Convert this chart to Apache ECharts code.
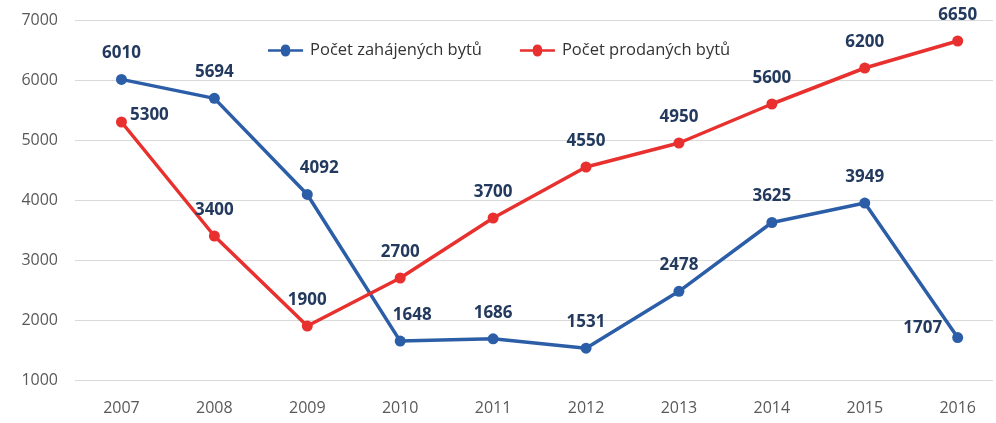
<!DOCTYPE html>
<html>
<head>
<meta charset="utf-8">
<script src="https://cdn.jsdelivr.net/npm/echarts@6/dist/echarts.min.js"></script>
<style>
html,body{margin:0;padding:0;background:#fff;}
#chart{width:996px;height:423px;}
</style>
</head>
<body>
<div id="chart"></div>
<script>
var years = [2007, 2008, 2009, 2010, 2011, 2012, 2013, 2014, 2015, 2016];
var zahajene = [6010, 5694, 4092, 1648, 1686, 1531, 2478, 3625, 3949, 1707];
var prodane = [5300, 3400, 1900, 2700, 3700, 4550, 4950, 5600, 6200, 6650];
var yTicks = [1000, 2000, 3000, 4000, 5000, 6000, 7000];
var seriesNames = ['Počet zahájených bytů', 'Počet prodaných bytů'];

var BLUE = '#2c5ea8';
var RED = '#e8312f';
var LABEL = '#233a5e';

function pairs(vals) {
  return vals.map(function (v, i) { return [years[i], v]; });
}

var blueData = pairs(zahajene).map(function (p, i) {
  var d = { value: p };
  if (years[i] === 2009 || years[i] === 2010) {
    d.label = { offset: [12, 0] };
  }
  if (years[i] === 2016) {
    d.label = { position: 'left', distance: 10, offset: [0, -9] };
  }
  return d;
});
var redData = pairs(prodane).map(function (p, i) {
  var d = { value: p };
  if (years[i] === 2007) {
    d.label = { position: 'right', distance: 3, offset: [0, -7] };
  }
  return d;
});

var labelStyle = {
  show: true,
  position: 'top',
  distance: 12,
  color: LABEL,
  fontSize: 17,
  fontWeight: 'bold',
  fontFamily: 'Open Sans',
  formatter: function (p) { return p.value[1]; }
};

var chart = echarts.init(document.getElementById('chart'), null, { renderer: 'canvas' });
chart.setOption({
  animation: false,
  backgroundColor: '#ffffff',
  grid: { left: 75, right: 3, top: 20, bottom: 43, containLabel: false },
  legend: {
    top: 37,
    left: 263,
    itemWidth: 45,
    itemHeight: 12,
    itemGap: 38,
    icon: 'path://M0,4.3 L16.5,4.3 A6,6 0 1,1 28.5,4.3 L45,4.3 L45,7.7 L28.5,7.7 A6,6 0 1,1 16.5,7.7 L0,7.7 Z',
    textStyle: { color: '#333333', fontSize: 16.5, fontFamily: 'Open Sans', padding: [0, 0, 0, -3] },
    data: seriesNames
  },
  xAxis: {
    type: 'value',
    min: 2006.5,
    max: 2016.38,
    splitLine: { show: false },
    axisLine: { show: false },
    axisTick: { show: false },
    axisLabel: {
      customValues: years,
      color: '#595959',
      fontSize: 16,
      fontFamily: 'Open Sans',
      margin: 20,
      formatter: function (v) { return String(v); }
    }
  },
  yAxis: {
    type: 'value',
    min: yTicks[0],
    max: yTicks[yTicks.length - 1],
    interval: 1000,
    axisLine: { show: false },
    axisTick: { show: false },
    splitLine: { lineStyle: { color: '#d9d9d9', width: 1.2 } },
    axisLabel: {
      color: '#595959',
      fontSize: 16,
      fontFamily: 'Open Sans',
      margin: 17,
      formatter: function (v) { return String(v); }
    }
  },
  series: [
    {
      name: seriesNames[0],
      type: 'line',
      data: blueData,
      symbol: 'circle',
      symbolSize: 11,
      color: BLUE,
      lineStyle: { color: BLUE, width: 3.5 },
      itemStyle: { color: BLUE },
      label: labelStyle,
      z: 2
    },
    {
      name: seriesNames[1],
      type: 'line',
      data: redData,
      symbol: 'circle',
      symbolSize: 11,
      color: RED,
      lineStyle: { color: RED, width: 3.5 },
      itemStyle: { color: RED },
      label: labelStyle,
      z: 3
    }
  ]
});
</script>
</body>
</html>
